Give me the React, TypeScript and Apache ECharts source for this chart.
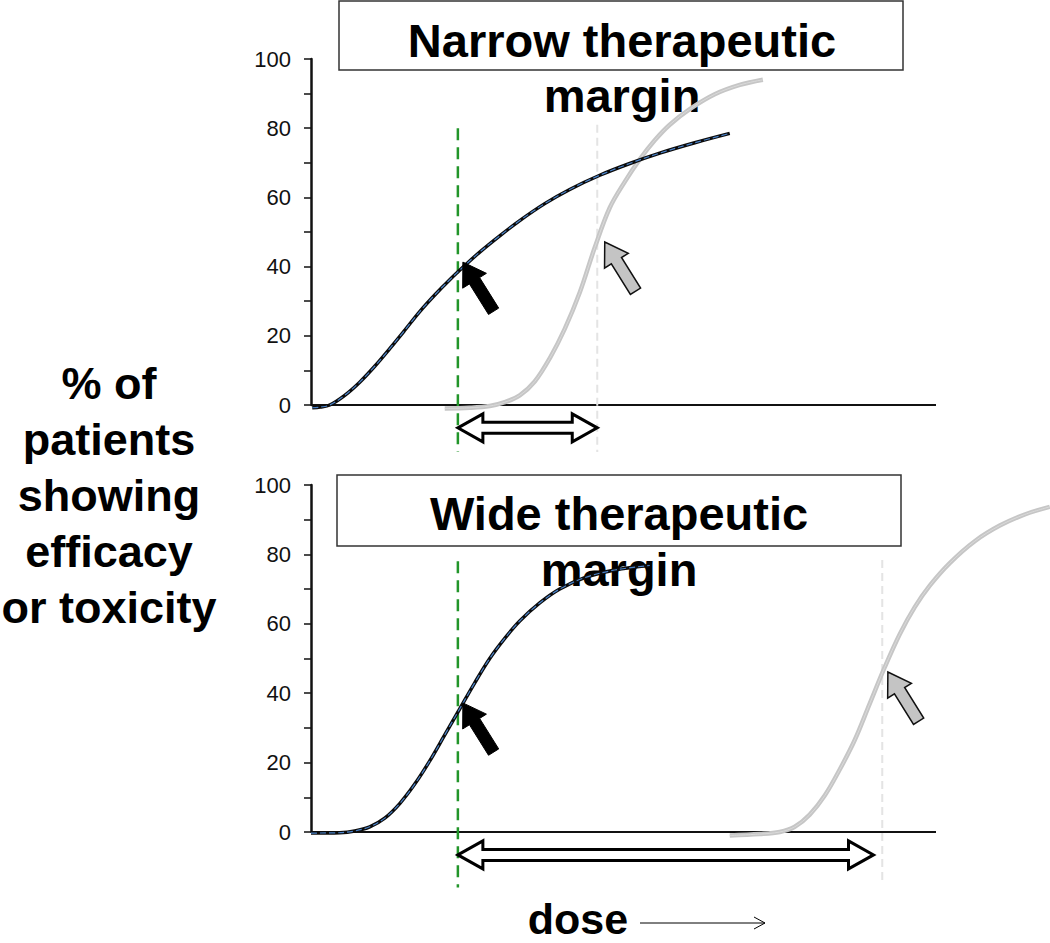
import React, { useEffect, useRef } from "react";
import * as echarts from "echarts";

// ---- data (x = dose in axis units, 0..100 on the drawn axis; y = % of patients) ----
const yTickInterval = 20;
const xAxisEnd = 100;
const topEfficacy: number[][] = [
  [0.2, -0.8], [1.5, -0.6], [3.0, 0], [5.4, 2.8], [7.8, 6.6], [10.2, 11.2],
  [12.6, 16.3], [15.0, 21.6], [17.4, 27], [19.8, 31.8], [22.2, 36.2],
  [24.6, 40.3], [27.0, 44.2], [30.2, 48.9], [33.4, 53.3], [37.4, 58.2],
  [41.4, 62.3], [46.2, 66.4], [51.0, 69.8], [55.8, 72.8], [61.4, 75.8], [67.0, 78.5],
];
const topToxicity: number[][] = [
  [21.4, -1], [25.4, -0.8], [28.6, -0.3], [31.0, 0.8], [33.4, 2.8], [35.8, 6.8],
  [38.2, 13.5], [40.6, 22], [43.0, 32.5], [45.4, 45.5], [47.8, 57], [50.2, 64.5],
  [52.6, 71], [55.0, 76.5], [57.4, 81], [60.6, 85.5], [64.6, 89.8], [68.6, 92.5], [72.3, 94],
];
const bottomEfficacy: number[][] = [
  [0, -0.3], [4.6, -0.2], [7.0, 0.3], [9.4, 1.5], [11.8, 4], [14.2, 8.2],
  [16.6, 13.8], [19.0, 20.5], [21.4, 28], [23.8, 35.5], [26.2, 43], [28.6, 50],
  [31.0, 55.8], [33.4, 60.8], [36.6, 66], [39.8, 70], [43.8, 73.3], [48.6, 75.5], [54.2, 76.8],
];
const bottomToxicity: number[][] = [
  [67.0, -1], [71.8, -0.6], [75.0, 0], [77.4, 1.5], [79.8, 5], [82.2, 10.5],
  [84.6, 18], [87.0, 26.5], [89.4, 37], [91.8, 47.5], [94.2, 57], [96.6, 64.8],
  [99.0, 71], [102.2, 77.5], [106.2, 83.8], [110.2, 88.3], [114.2, 91.5], [118.2, 93.7],
];
const effectiveDose = [23.5, 23.5];      // green dashed line (top, bottom)
const toxicDose = [45.8, 91.4];          // faint grey dashed line (top, bottom)
const doseLineRange = [[80, -13.5], [78, -16]];
const toxLineRange = [[81, -13.6], [78.4, -13.8]];
const marginArrowY = [-6.6, -6.6];
const marginArrowEnd = [45.8, 90];
const efficacyArrowTip = [[24.3, 41.3], [24.3, 37.2]];
const toxicityArrowTip = [[47.0, 47.1], [92.3, 46.1]];
const panelTitles = [["Narrow therapeutic", "margin"], ["Wide therapeutic", "margin"]];
const yAxisTitle = "% of\npatients\nshowing\nefficacy\nor toxicity";
const xAxisTitle = "dose";

const FONT = "'Liberation Sans', Arial, Helvetica, sans-serif";

function pointerArrow(tip: number[]) {
  const d = [0.53, 0.848];
  const n = [-0.848, 0.53];
  const h = 22, hw = 14, sw = 6, L = 58;
  const p = (a: number, b: number) => [tip[0] + d[0] * a + n[0] * b, tip[1] + d[1] * a + n[1] * b];
  return [p(0, 0), p(h, hw), p(h, sw), p(L, sw), p(L, -sw), p(h, -sw), p(h, -hw)];
}

function doubleArrow(x1: number, x2: number, yc: number) {
  const hl = 25, hh = 14, sh = 5.5;
  return [
    [x1, yc], [x1 + hl, yc - hh], [x1 + hl, yc - sh], [x2 - hl, yc - sh],
    [x2 - hl, yc - hh], [x2, yc], [x2 - hl, yc + hh], [x2 - hl, yc + sh],
    [x1 + hl, yc + sh], [x1 + hl, yc + hh],
  ];
}

export default function App() {
  const ref = useRef<HTMLDivElement>(null);
  useEffect(() => {
    document.body.style.margin = "0";
    if (!ref.current) return;
    const chart = echarts.init(ref.current, null, { renderer: "svg" });

    const xMax = 118.24;
    const grids = [
      { left: 311, width: 739, top: 59, height: 346 },
      { left: 311, width: 739, top: 485, height: 347 },
    ];
    const xAxes = grids.map((_, i) => ({
      type: "value", gridIndex: i, min: 0, max: xMax,
      axisLine: { show: false },
      axisTick: { show: false }, axisLabel: { show: false }, splitLine: { show: false },
    }));
    const yAxes = grids.map((_, i) => ({
      type: "value", gridIndex: i, min: 0, max: 100, interval: yTickInterval,
      axisLine: { show: true, lineStyle: { color: "#111", width: 2.5 } },
      axisTick: { show: true, length: 7, lineStyle: { color: "#111", width: 1.5 } },
      minorTick: { show: true, splitNumber: 2, length: 7, lineStyle: { color: "#111", width: 1.5 } },
      axisLabel: { color: "#111", fontSize: 22, fontFamily: FONT, margin: 20 },
      splitLine: { show: false },
    }));

    const panels = [
      { eff: topEfficacy, tox: topToxicity },
      { eff: bottomEfficacy, tox: bottomToxicity },
    ];
    const series: any[] = [];
    panels.forEach((p, i) => {
      const base = { type: "line", xAxisIndex: i, yAxisIndex: i, showSymbol: false, symbol: "none", clip: false, silent: true };
      const curve = { smooth: 0.35 };
      series.push({ ...base, data: [[0, 0], [xAxisEnd, 0]], lineStyle: { color: "#111", width: 2 } });
      series.push({ ...base, data: [[toxicDose[i], toxLineRange[i][0]], [toxicDose[i], toxLineRange[i][1]]], lineStyle: { color: "#e4e4e4", width: 2, type: [8, 5] } });
      series.push({ ...base, data: [[effectiveDose[i], doseLineRange[i][0]], [effectiveDose[i], doseLineRange[i][1]]], lineStyle: { color: "#22952a", width: 2.5, type: [12, 7] } });
      series.push({ ...base, ...curve, data: p.tox, lineStyle: { color: "#c6c6c6", width: 4.5 } });
      series.push({ ...base, ...curve, data: p.tox, lineStyle: { color: "#dadada", width: 1 } });
      series.push({ ...base, ...curve, data: p.eff, lineStyle: { color: "#0b0b0b", width: 3.5 } });
      series.push({ ...base, ...curve, data: p.eff, lineStyle: { color: "#4a82c8", width: 1.2, type: [6, 3] } });
    });

    const titleFont = `bold 47px ${FONT}`;
    const staticGraphics: any[] = [
      { type: "rect", shape: { x: 339, y: 1, width: 564, height: 69 }, style: { fill: "#fff", stroke: "#333", lineWidth: 1.5 }, z: 0 },
      { type: "text", x: 622, y: 40, style: { text: panelTitles[0][0], font: titleFont, fill: "#000", align: "center", verticalAlign: "middle" }, z: 1 },
      { type: "text", x: 622, y: 95, style: { text: panelTitles[0][1], font: titleFont, fill: "#000", align: "center", verticalAlign: "middle" }, z: 1 },
      { type: "rect", shape: { x: 337, y: 475, width: 564, height: 71 }, style: { fill: "#fff", stroke: "#333", lineWidth: 1.5 }, z: 0 },
      { type: "text", x: 619, y: 513, style: { text: panelTitles[1][0], font: titleFont, fill: "#000", align: "center", verticalAlign: "middle" }, z: 1 },
      { type: "text", x: 619, y: 569, style: { text: panelTitles[1][1], font: titleFont, fill: "#000", align: "center", verticalAlign: "middle" }, z: 1 },
      { type: "text", x: 109, y: 495, style: { text: yAxisTitle, font: `bold 45px ${FONT}`, fill: "#000", align: "center", verticalAlign: "middle", lineHeight: 56 }, z: 1 },
      { type: "text", x: 578, y: 919, style: { text: xAxisTitle, font: `bold 43px ${FONT}`, fill: "#000", align: "center", verticalAlign: "middle" }, z: 1 },
      { type: "line", shape: { x1: 640, y1: 923, x2: 765, y2: 923 }, style: { stroke: "#000", lineWidth: 1 }, z: 1 },
      { type: "polyline", shape: { points: [[754, 917], [765, 923], [754, 929]] }, style: { stroke: "#000", lineWidth: 1, fill: null }, z: 1 },
    ];

    chart.setOption({
      animation: false,
      backgroundColor: "#fff",
      grid: grids,
      xAxis: xAxes,
      yAxis: yAxes,
      series,
      graphic: staticGraphics,
    });

    const annot: any[] = [];
    [0, 1].forEach((i) => {
      const px = (v: number[]) => chart.convertToPixel({ gridIndex: i } as any, v) as number[];
      const a = px([effectiveDose[i], marginArrowY[i]]);
      const b = px([marginArrowEnd[i], marginArrowY[i]]);
      annot.push({ type: "polygon", shape: { points: doubleArrow(a[0], b[0], a[1]) }, style: { fill: "#fff", stroke: "#000", lineWidth: 3, lineJoin: "miter" }, z: 10 });
      annot.push({ type: "polygon", shape: { points: pointerArrow(px(efficacyArrowTip[i])) }, style: { fill: "#000", stroke: "#000", lineWidth: 1 }, z: 10 });
      annot.push({ type: "polygon", shape: { points: pointerArrow(px(toxicityArrowTip[i])) }, style: { fill: "#c4c4c4", stroke: "#111", lineWidth: 1.5 }, z: 10 });
    });
    chart.setOption({ graphic: [...staticGraphics, ...annot] });

    return () => chart.dispose();
  }, []);
  return <div ref={ref} style={{ width: 1050, height: 943 }} />;
}
